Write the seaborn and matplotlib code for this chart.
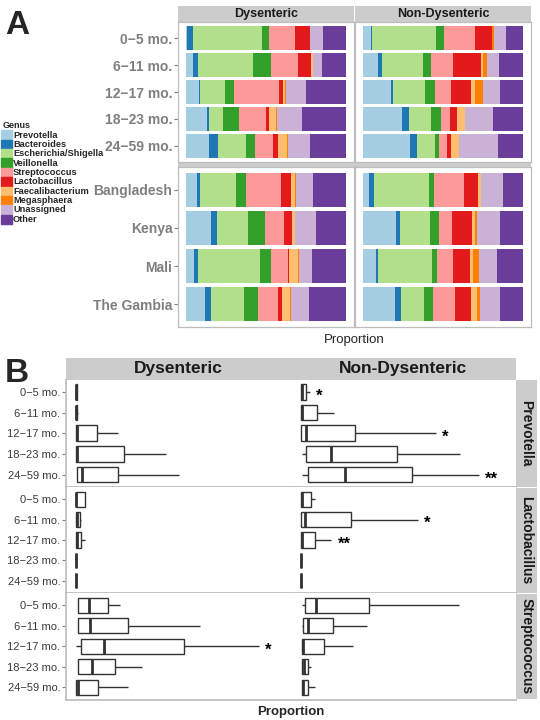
import numpy as np
import pandas as pd
import matplotlib.pyplot as plt
from matplotlib.patches import Rectangle
import seaborn as sns

sns.set_theme(style='white')
plt.rcParams['font.family'] = ['Liberation Sans', 'DejaVu Sans']

genera = ['Prevotella', 'Bacteroides', 'Escherichia/Shigella', 'Veillonella', 'Streptococcus',
          'Lactobacillus', 'Faecalibacterium', 'Megasphaera', 'Unassigned', 'Other']
ages = ['0\u22125 mo.', '6\u221211 mo.', '12\u221217 mo.', '18\u221223 mo.', '24\u221259 mo.']
countries = ['Bangladesh', 'Kenya', 'Mali', 'The Gambia']
groups = ['Dysenteric', 'Non-Dysenteric']

# panel A - mean relative abundance (%), columns in the order of `genera`
age_dys = [
    [0.6, 3.7, 42.9, 4.4, 16.8, 9.3, 0.0, 0.0, 8.1, 14.2],
    [4.4, 3.1, 34.2, 11.2, 17.4, 8.1, 1.0, 0.0, 5.8, 14.8],
    [8.1, 0.6, 15.6, 5.6, 28.0, 2.5, 1.7, 0.6, 12.0, 25.3],
    [13.1, 1.2, 8.7, 10.0, 16.8, 1.9, 4.4, 0.6, 15.6, 27.7],
    [14.3, 5.6, 17.4, 5.6, 11.2, 3.1, 6.2, 0.6, 13.7, 22.3],
]
age_non = [
    [4.8, 0.6, 40.5, 5.0, 19.3, 10.6, 0.0, 1.2, 7.5, 10.5],
    [9.1, 2.5, 26.2, 5.0, 13.7, 17.5, 1.2, 2.5, 7.5, 14.8],
    [17.3, 1.2, 20.0, 6.2, 10.6, 11.9, 2.5, 5.0, 11.2, 14.1],
    [24.1, 4.4, 14.3, 6.2, 5.6, 4.4, 5.0, 0.0, 17.5, 18.5],
    [29.1, 4.4, 11.2, 2.5, 5.0, 3.1, 5.0, 0.0, 24.3, 15.4],
]
country_dys = [
    [6.9, 1.9, 22.5, 6.3, 21.9, 6.3, 2.5, 0.6, 10.6, 20.5],
    [15.7, 3.8, 19.4, 10.6, 11.9, 5.0, 1.9, 0.0, 13.2, 18.5],
    [5.0, 2.5, 38.8, 6.9, 10.6, 0.6, 5.6, 0.6, 8.1, 21.3],
    [11.9, 3.8, 20.7, 8.8, 12.5, 2.5, 5.0, 0.6, 11.3, 22.9],
]
country_non = [
    [3.8, 3.1, 34.4, 3.1, 18.8, 8.8, 1.9, 0.0, 13.8, 12.3],
    [20.7, 2.5, 18.8, 5.6, 8.1, 12.5, 1.9, 1.3, 14.4, 14.2],
    [8.1, 1.3, 33.8, 3.1, 10.0, 10.6, 1.9, 3.8, 11.3, 16.1],
    [20.0, 3.8, 14.4, 5.6, 13.8, 10.0, 3.8, 1.9, 12.5, 14.2],
]

# panel B - box summaries per age: low whisker, Q1, median, Q3, high whisker
prev_dys = [(0, 0, 0, 0.003, 0.003), (0, 0, 0.001, 0.004, 0.01), (0, 0, 0.002, 0.10, 0.204),
            (0, 0, 0.002, 0.232, 0.44), (0.002, 0.002, 0.026, 0.203, 0.50)]
prev_non = [(0, 0, 0.002, 0.023, 0.043), (0, 0, 0.006, 0.075, 0.16), (0, 0, 0.023, 0.265, 0.657),
            (0.006, 0.023, 0.146, 0.469, 0.778), (0.006, 0.031, 0.214, 0.541, 0.869)]
lacto_dys = [(0, 0, 0, 0.043, 0.043), (0, 0, 0.005, 0.018, 0.023), (0, 0, 0.003, 0.023, 0.043),
             (0, 0, 0, 0, 0), (0, 0, 0, 0, 0)]
lacto_non = [(0, 0, 0.002, 0.05, 0.065), (0, 0, 0.016, 0.242, 0.572), (0, 0, 0.004, 0.065, 0.147),
             (0, 0, 0, 0, 0), (0, 0, 0, 0, 0)]
strep_dys = [(0.01, 0.011, 0.064, 0.154, 0.214), (0.01, 0.011, 0.069, 0.253, 0.606),
             (0.001, 0.023, 0.134, 0.526, 0.892), (0.01, 0.011, 0.077, 0.188, 0.322),
             (0.0, 0.001, 0.01, 0.106, 0.253)]
strep_non = [(0.006, 0.016, 0.07, 0.33, 0.773), (0.006, 0.011, 0.031, 0.153, 0.322),
             (0.006, 0.006, 0.01, 0.109, 0.253), (0.006, 0.006, 0.015, 0.031, 0.05),
             (0.006, 0.006, 0.008, 0.031, 0.065)]

stars = [('Prevotella', 'Non-Dysenteric', 0, '*'), ('Prevotella', 'Non-Dysenteric', 2, '*'),
         ('Prevotella', 'Non-Dysenteric', 4, '**'), ('Lactobacillus', 'Non-Dysenteric', 1, '*'),
         ('Lactobacillus', 'Non-Dysenteric', 2, '**'), ('Streptococcus', 'Dysenteric', 2, '*')]

pal = dict(zip(genera, sns.color_palette('Paired', 10)))
W, H = 540, 720
fig = plt.figure(figsize=(5.4, 7.2), dpi=100)


def px_axes(x0, y0, x1, y1):
    return fig.add_axes([x0 / W, 1 - y1 / H, (x1 - x0) / W, (y1 - y0) / H])


def strip(x0, y0, x1, y1, label='', size=9, rot=0):
    ax = px_axes(x0, y0, x1, y1)
    ax.set_facecolor('#CCCCCC')
    ax.set_xticks([])
    ax.set_yticks([])
    for s in ax.spines.values():
        s.set_visible(False)
    if label:
        ax.text(0.5, 0.5, label, ha='center', va='center', rotation=rot, fontsize=size,
                fontweight='bold', color='#1A1A1A', transform=ax.transAxes)


# ---------------- panel A: stacked bars ----------------
colsA = [(178, 354), (355, 531)]
rowsA = [((22, 162), ages, [age_dys, age_non]), ((167, 327), countries, [country_dys, country_non])]
for ci, grp in enumerate(groups):
    strip(colsA[ci][0], 6, colsA[ci][1], 21.5, grp, size=9)
strip(178, 162, 531, 167)

for (y0, y1), cats, tables in rowsA:
    for ci, table in enumerate(tables):
        ax = px_axes(colsA[ci][0], y0, colsA[ci][1], y1)
        df = pd.DataFrame(table, index=cats, columns=genera) / 100
        cum = df.cumsum(axis=1)
        for g in reversed(genera):
            sns.barplot(x=cum[g].values, y=cats, orient='h', color=pal[g], saturation=1,
                        width=0.9, linewidth=0, errorbar=None, ax=ax)
        ax.set_xlim(-0.05, 1.05)
        ax.set_ylim(len(cats) - 0.4, -0.6)
        ax.set_xlabel('')
        ax.set_ylabel('')
        ax.set_xticks([])
        for s in ax.spines.values():
            s.set_color('#BDBDBD')
            s.set_linewidth(0.9)
        if ci == 0:
            ax.tick_params(axis='y', left=True, length=3, width=0.8, color='#7F7F7F',
                           labelsize=10, labelcolor='#7F7F7F', pad=1)
            for lbl in ax.get_yticklabels():
                lbl.set_fontweight('bold')
        else:
            ax.set_yticks([])

fig.text(354 / W, 1 - 340 / H, 'Proportion', ha='center', va='center', fontsize=9.5)

# legend
fig.text(3 / W, 1 - 125 / H, 'Genus', fontsize=6.5, fontweight='bold', va='center')
for i, g in enumerate(genera):
    yc = 135 + i * 9.37
    fig.patches.append(Rectangle((1 / W, 1 - (yc + 4.7) / H), 11 / W, 9.37 / H,
                                 transform=fig.transFigure, color=pal[g]))
    fig.text(13 / W, 1 - yc / H, g, fontsize=6.7, fontweight='bold', va='center')

# ---------------- panel B: box plots ----------------
box_data = {('Prevotella', 'Dysenteric'): prev_dys, ('Prevotella', 'Non-Dysenteric'): prev_non,
            ('Lactobacillus', 'Dysenteric'): lacto_dys, ('Lactobacillus', 'Non-Dysenteric'): lacto_non,
            ('Streptococcus', 'Dysenteric'): strep_dys, ('Streptococcus', 'Non-Dysenteric'): strep_non}
records = []
for (g, grp), summ in box_data.items():
    for age, five in zip(ages, summ):
        for v in five:
            records.append((g, grp, age, v))
box_df = pd.DataFrame(records, columns=['genus', 'group', 'age', 'value'])

genusB = ['Prevotella', 'Lactobacillus', 'Streptococcus']
colsB = [(66, 291), (291, 516)]
rowsB = [(379.5, 487), (487, 593), (593, 699.5)]
for ci, grp in enumerate(groups):
    strip(colsB[ci][0], 358, colsB[ci][1], 379.5, grp, size=12.5)
for ri, g in enumerate(genusB):
    strip(516, rowsB[ri][0] + 0.5, 537, rowsB[ri][1] - 0.5, g, size=10, rot=270)

for ri, g in enumerate(genusB):
    for ci, grp in enumerate(groups):
        ax = px_axes(colsB[ci][0], rowsB[ri][0], colsB[ci][1], rowsB[ri][1])
        sub = box_df[(box_df['genus'] == g) & (box_df['group'] == grp)]
        sns.boxplot(data=sub, x='value', y='age', order=ages, orient='h', whis=(0, 100),
                    width=0.75, color='white', linecolor='#333333', linewidth=1.0,
                    saturation=1, showcaps=False, fliersize=0,
                    medianprops=dict(linewidth=2), ax=ax)
        for gg, gr, ai, lab in stars:
            if gg == g and gr == grp:
                high = box_data[(g, grp)][ai][4]
                ax.text(high + 0.03, ai + 0.42, lab, fontsize=12, fontweight='bold',
                        ha='left', va='baseline', color='black')
        ax.set_xlim(-0.05, 1.05)
        ax.set_ylim(4.6, -0.6)
        ax.set_xlabel('')
        ax.set_ylabel('')
        ax.set_xticks([])
        for s in ax.spines.values():
            s.set_visible(False)
        ax.spines['bottom'].set_visible(True)
        ax.spines['bottom'].set_color('#BDBDBD')
        if ci == 0:
            ax.spines['left'].set_visible(True)
            ax.spines['left'].set_color('#BDBDBD')
            ax.tick_params(axis='y', left=True, length=3, width=0.8, color='#7F7F7F',
                           labelsize=8, labelcolor='#3A3A3A', pad=1)
        else:
            ax.set_yticks([])

fig.text(291 / W, 1 - 712 / H, 'Proportion', ha='center', va='center', fontsize=9.5,
         fontweight='bold')

fig.text(17 / W, 1 - 25 / H, 'A', ha='center', va='center', fontsize=24, fontweight='bold')
fig.text(17 / W, 1 - 373 / H, 'B', ha='center', va='center', fontsize=24, fontweight='bold')

fig.savefig('out.png', dpi=100)
